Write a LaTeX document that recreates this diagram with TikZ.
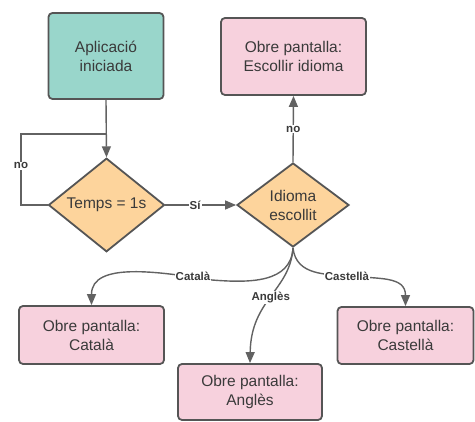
\documentclass[tikz,border=0pt]{standalone}
\usepackage{fontspec}
\setmainfont{Liberation Sans}
\usetikzlibrary{shapes.geometric,arrows.meta}
\definecolor{startfill}{HTML}{99D6CB}
\definecolor{screenfill}{HTML}{F7D1DD}
\definecolor{decisionfill}{HTML}{FDD49C}
\definecolor{edgegray}{HTML}{555555}
\definecolor{linegray}{HTML}{626262}
\definecolor{textgray}{HTML}{3A3A3A}
\tikzset{
  box/.style={rectangle, rounded corners=4pt, draw=edgegray, line width=1.8pt,
    text=textgray, align=center, font=\fontsize{15.5}{19}\selectfont, inner sep=0pt},
  startbox/.style={box, fill=startfill},
  screenbox/.style={box, fill=screenfill},
  decision/.style={diamond, draw=edgegray, line width=1.8pt, fill=decisionfill,
    text=textgray, align=center, font=\fontsize{15.5}{19}\selectfont, inner sep=0pt},
  conn/.style={draw=linegray, line width=1.4pt},
  flow/.style={conn, -{Triangle[length=11pt,width=9pt]}},
  lbl/.style={fill=white, text=textgray, inner sep=1pt,
    font=\bfseries\fontsize{11.5}{13}\selectfont}
}
\begin{document}
\begin{tikzpicture}[x=1pt,y=-1pt]
\useasboundingbox (0,0) rectangle (475,422);

% boxes
\node[startbox, minimum width=115pt, minimum height=86pt] (app) at (106,56) {Aplicació\\iniciada};
\node[screenbox, minimum width=145pt, minimum height=77pt] (esc) at (293.5,56.5) {Obre pantalla:\\Escollir idioma};
\node[screenbox, minimum width=145pt, minimum height=58pt] (cat) at (91.5,335) {Obre pantalla:\\Català};
\node[screenbox, minimum width=144pt, minimum height=56pt] (ang) at (250,392) {Obre pantalla:\\Anglès};
\node[screenbox, minimum width=136pt, minimum height=57pt] (cas) at (405.5,335.5) {Obre pantalla:\\Castellà};

% decisions
\node[decision, minimum width=116pt, minimum height=84pt] (temps) at (106.5,205) {Temps = 1s};
\node[decision, minimum width=112pt, minimum height=84pt] (idi) at (293,205) {Idioma\\escollit};

% waiting loop
\coordinate (join) at (106.5,134);
\coordinate (loopbot) at (21,205);
\coordinate (looptop) at (21,134);
\draw[conn] (temps.west) -- (loopbot) -- node[lbl, pos=0.55] {no} (looptop) -- (join);
\draw[flow] (app.south) -- (temps.north);

% main flow
\draw[flow] (temps.east) -- node[lbl, pos=0.42] {Sí} (idi.west);
\draw[flow] (idi.north) -- node[lbl, pos=0.5] {no} (esc.south);

% language choices
\coordinate (catmid) at (212,280);
\draw[flow] (idi.south) .. controls +(-2,35) and +(38,3) .. (catmid)
  .. controls +(-52,-8) and +(0,-44) .. (cat.north);
\node[lbl] at (193,276) {Català};

\draw[flow] (idi.south) .. controls +(-3,43) and +(1,-64) .. node[lbl, pos=0.5] {Anglès} (ang.north);

\coordinate (casmid) at (347,276);
\draw[flow] (idi.south) .. controls +(3,28) and +(-20,-2) .. (casmid)
  .. controls +(33,3) and +(0,-30) .. (cas.north);
\node[lbl] at (casmid) {Castellà};
\end{tikzpicture}
\end{document}
